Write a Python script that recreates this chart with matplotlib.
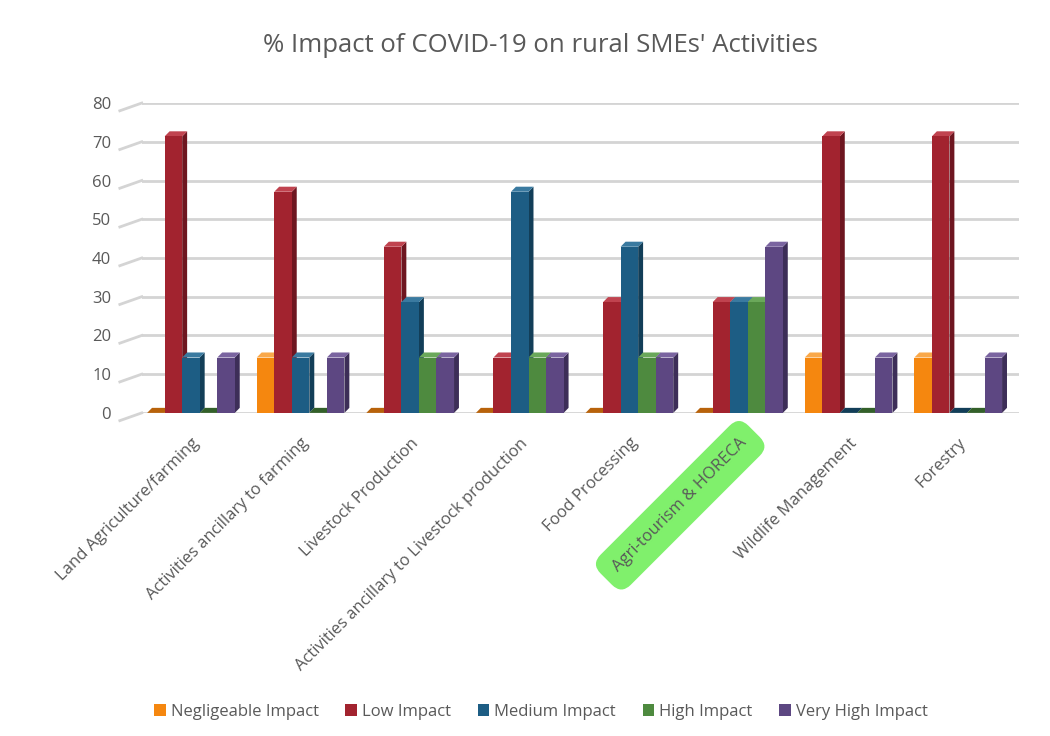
import matplotlib
matplotlib.use("Agg")
import matplotlib.pyplot as plt
from matplotlib.patches import Polygon, Patch
import matplotlib.transforms as mtransforms
import numpy as np

plt.rcParams['font.family'] = ['Open Sans', 'DejaVu Sans']

categories = ["Land Agriculture/farming", "Activities ancillary to farming",
              "Livestock Production", "Activities ancillary to Livestock production",
              "Food Processing", "Agri-tourism & HORECA", "Wildlife Management", "Forestry"]
series_names = ["Negligeable Impact", "Low Impact", "Medium Impact", "High Impact", "Very High Impact"]
negligeable = [0, 14.3, 0, 0, 0, 0, 14.3, 14.3]
low = [71.4, 57.1, 42.9, 14.3, 28.6, 28.6, 71.4, 71.4]
medium = [14.3, 14.3, 28.6, 57.1, 42.9, 28.6, 0, 0]
high = [0, 0, 14.3, 14.3, 14.3, 28.6, 0, 0]
very_high = [14.3, 14.3, 14.3, 14.3, 14.3, 42.9, 14.3, 14.3]
yticks = [0, 10, 20, 30, 40, 50, 60, 70, 80]

series = [negligeable, low, medium, high, very_high]
colors = ['#F5870F', '#A2232F', '#1D5D84', '#4E8A3F', '#5D4782']
dark = ['#B8620A', '#6E1620', '#123E58', '#33602A', '#3D2E58']
topc = ['#F9A84A', '#C0434F', '#3A7AA0', '#6AA85A', '#7A64A0']

fig = plt.figure(figsize=(10.5, 7.36), dpi=100)
ax = fig.add_axes([0.135, 0.439, 0.835, 0.421])
ax.set_xlim(-0.449, 7.55)
ax.set_ylim(0, 80)

gc = '#d4d4d4'
for t in yticks:
    ax.axhline(t, color=gc, lw=2, zorder=0)
    ax.plot([-0.025, 0.0], [t - 2.0, t], transform=mtransforms.blended_transform_factory(ax.transAxes, ax.transData),
            color=gc, lw=2, clip_on=False, zorder=0)

w = 0.16
dx = 0.045
dy = 1.3
x = np.arange(len(categories))
z = 2
for gi in range(len(categories)):
    for si, vals in enumerate(series):
        v = vals[gi]
        x0 = x[gi] + (si - 2) * w - w / 2
        x1 = x0 + w
        ax.add_patch(Polygon([(x1, 0), (x1 + dx, dy), (x1 + dx, v + dy), (x1, v)],
                             closed=True, facecolor=dark[si], edgecolor='none', zorder=z))
        ax.add_patch(Polygon([(x0, v), (x0 + dx, v + dy), (x1 + dx, v + dy), (x1, v)],
                             closed=True, facecolor=dark[si] if v == 0 else topc[si], edgecolor='none', zorder=z))
        ax.bar(x0, v, width=w, align='edge', color=colors[si], edgecolor='none', zorder=z)
        z += 1

for s in ax.spines.values():
    s.set_visible(False)
ax.set_yticks(yticks)
ax.tick_params(axis='y', length=0, pad=22, labelsize=12, labelcolor='#595959')
ax.set_xticks(x)
ax.set_xticklabels(categories, rotation=45, ha='right', rotation_mode='anchor', fontsize=12, color='#595959')
ax.tick_params(axis='x', length=0, pad=16)
for lbl in ax.get_xticklabels():
    if lbl.get_text().startswith("Agri-tourism"):
        lbl.set_bbox(dict(boxstyle='round,pad=0.8', facecolor='#80F06C', edgecolor='none'))

fig.text(0.515, 0.938, "% Impact of COVID-19 on rural SMEs' Activities", ha='center', va='center',
         fontsize=18.5, color='#595959')

handles = [Patch(facecolor=c, edgecolor='none') for c in colors]
fig.legend(handles, series_names, loc='center', bbox_to_anchor=(0.515, 0.033), ncol=5, frameon=False,
           handlelength=0.7, handleheight=0.7, handletextpad=0.3, columnspacing=1.6, fontsize=12,
           labelcolor='#595959')

fig.savefig("out.png", dpi=100, facecolor='white')
